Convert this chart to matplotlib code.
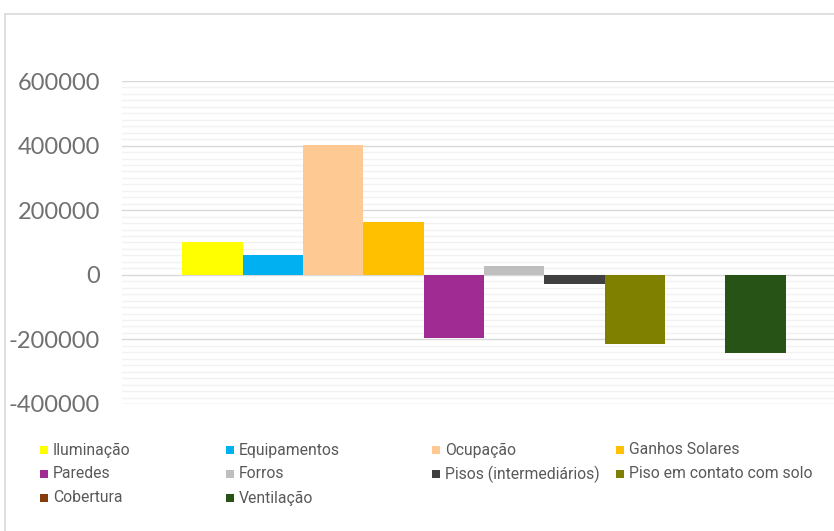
import numpy as np
import matplotlib
matplotlib.use("Agg")
from matplotlib import pyplot as plt
from matplotlib.patches import Rectangle
from matplotlib.ticker import MultipleLocator

# heat balance components (Wh)
series = ["Iluminação", "Equipamentos", "Ocupação", "Ganhos Solares",
          "Paredes", "Forros", "Pisos (intermediários)",
          "Piso em contato com solo", "Cobertura", "Ventilação"]
values = [102000, 62000, 402000, 164000,
          -195000, 28000, -28000,
          -213000, -2000, -241000]
colors = ["#FFFF00", "#00B0F0", "#FFC993", "#FFC000",
          "#A02B93", "#BFBFBF", "#404040",
          "#7F7F00", "#843C0C", "#275317"]
yticks = [-400000, -200000, 0, 200000, 400000, 600000]

W, H = 834, 531
fig = plt.figure(figsize=(W / 100, H / 100), dpi=100)

# chart frame
fig.patches.append(Rectangle((5 / W, -0.1), 1.2, 1.1 - 14 / H,
                             transform=fig.transFigure, fill=False,
                             edgecolor="#D9D9D9", linewidth=1.2))

ax = fig.add_axes([122 / W, 1 - 404 / H, 724 / W, (404 - 81) / H])
x = np.arange(len(series))
ax.bar(x, values, width=1.0, color=colors, edgecolor="none", zorder=3)

ax.set_xlim(-1.5, 10.5)
ax.set_ylim(min(yticks), max(yticks))
ax.set_yticks(yticks)
ax.set_yticklabels([str(v) for v in yticks])
ax.yaxis.set_minor_locator(MultipleLocator(20000))
ax.grid(True, which="major", axis="y", color="#D9D9D9", linewidth=1.0, zorder=0)
ax.grid(True, which="minor", axis="y", color="#F2F2F2", linewidth=1.0, zorder=0)
ax.set_xticks([])
ax.tick_params(axis="y", which="both", length=0, pad=16,
               labelsize=17, labelcolor="#707070")
for lab in ax.get_yticklabels():
    lab.set_fontfamily("Lato")
for s in ax.spines.values():
    s.set_visible(False)
ax.set_facecolor("none")

# legend laid out in a 4-column grid
col_x = [40, 226, 432, 616]
row_y = [450, 474, 498]
for i, (name, c) in enumerate(zip(series, colors)):
    cx = col_x[i % 4]
    cy = row_y[i // 4]
    fig.patches.append(Rectangle((cx / W, 1 - (cy + 4) / H), 8 / W, 8 / H,
                                 transform=fig.transFigure, facecolor=c,
                                 edgecolor="none"))
    fig.text((cx + 13) / W, 1 - cy / H, name, fontsize=11.3, color="#595959",
             family="Roboto", va="center", ha="left")

fig.savefig("out.png", dpi=100)
